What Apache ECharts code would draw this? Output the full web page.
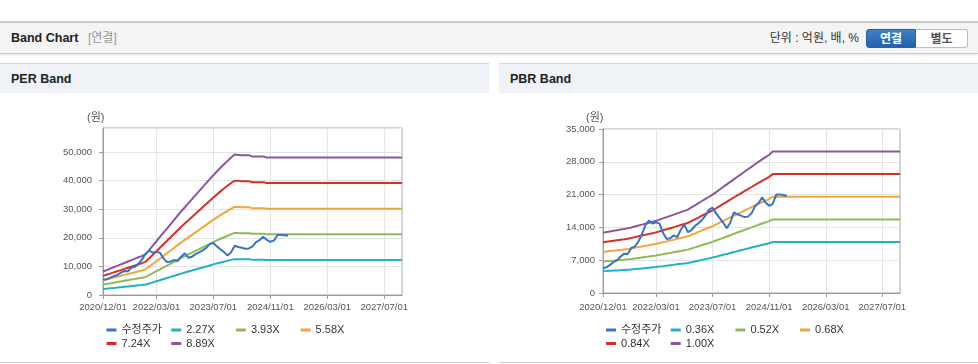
<!DOCTYPE html>
<html><head><meta charset="utf-8">
<script src="https://cdn.jsdelivr.net/npm/echarts@6/dist/echarts.min.js"></script>
<style>
html,body{margin:0;padding:0;background:#fff;width:978px;height:364px;overflow:hidden;font-family:"Liberation Sans","Noto Sans CJK KR",sans-serif;}
#hdr{position:absolute;left:0;top:21px;width:978px;height:30px;background:#f4f4f4;border-top:2px solid #c8c8c8;border-bottom:1px solid #cfcfcf;box-shadow:0 1px 2px rgba(0,0,0,0.12);}
#hdr .t1{position:absolute;left:11px;top:0;line-height:31px;font-size:12.5px;font-weight:bold;color:#222;}
#hdr .t2{position:absolute;left:88px;top:0;line-height:31px;font-size:12px;color:#999;}
#hdr .unit{position:absolute;right:119px;top:0;line-height:31px;font-size:12px;color:#333;}
#hdr .on{position:absolute;left:866px;top:6px;width:50px;height:19px;line-height:19px;text-align:center;font-size:12px;font-weight:bold;color:#fff;background:linear-gradient(#3d7fc8,#2561a8);border:1px solid #2a61a3;border-radius:3px 0 0 3px;box-sizing:border-box;}
#hdr .off{position:absolute;left:916px;top:6px;width:52px;height:19px;line-height:19px;text-align:center;font-size:12px;font-weight:bold;color:#555;background:#fff;border:1px solid #bdbdbd;border-left:none;border-radius:0 3px 3px 0;box-sizing:border-box;}
.ph{position:absolute;top:63px;height:29px;border-top:1px solid #d8d8d8;background:#eff2f6;font-size:12.5px;font-weight:bold;color:#222;line-height:31px;padding-left:11px;box-sizing:content-box;}
.pb{position:absolute;top:362px;height:1px;background:#cfcfcf;}
.chart{position:absolute;top:93px;height:269px;}
</style></head>
<body>
<div id="hdr">
  <span class="t1">Band Chart</span><span class="t2">[연결]</span>
  <span class="unit">단위 : 억원, 배, %</span>
  <span class="on">연결</span><span class="off">별도</span>
</div>
<div class="ph" style="left:0;width:478px;">PER Band</div>
<div class="ph" style="left:499px;width:468px;">PBR Band</div>
<div id="per" class="chart" style="left:0;width:489px;"></div>
<div id="pbr" class="chart" style="left:499px;width:479px;"></div>
<div class="pb" style="left:0;width:489px;"></div>
<div class="pb" style="left:499px;width:479px;"></div>
<script>
const months = [
'2020/12/01',
'2021/01/01','2021/02/01','2021/03/01','2021/04/01','2021/05/01','2021/06/01','2021/07/01','2021/08/01','2021/09/01','2021/10/01','2021/11/01','2021/12/01',
'2022/01/01','2022/02/01','2022/03/01','2022/04/01','2022/05/01','2022/06/01','2022/07/01','2022/08/01','2022/09/01','2022/10/01','2022/11/01','2022/12/01',
'2023/01/01','2023/02/01','2023/03/01','2023/04/01','2023/05/01','2023/06/01','2023/07/01','2023/08/01','2023/09/01','2023/10/01','2023/11/01','2023/12/01',
'2024/01/01','2024/02/01','2024/03/01','2024/04/01','2024/05/01','2024/06/01','2024/07/01','2024/08/01','2024/09/01','2024/10/01','2024/11/01','2024/12/01',
'2025/01/01','2025/02/01','2025/03/01','2025/04/01','2025/05/01','2025/06/01','2025/07/01','2025/08/01','2025/09/01','2025/10/01','2025/11/01','2025/12/01',
'2026/01/01','2026/02/01','2026/03/01','2026/04/01','2026/05/01','2026/06/01','2026/07/01','2026/08/01','2026/09/01','2026/10/01','2026/11/01','2026/12/01',
'2027/01/01','2027/02/01','2027/03/01','2027/04/01','2027/05/01','2027/06/01','2027/07/01','2027/08/01','2027/09/01','2027/10/01','2027/11/01','2027/12/01'
];
const tickLabels = ['2020/12/01','2022/03/01','2023/07/01','2024/11/01','2026/03/01','2027/07/01'];

const price = [
5300,5500,6000,6600,7000,7800,8400,8300,9600,9900,
11000,12500,14500,15500,14800,15100,14800,12800,11500,11700,
12300,11900,13500,14600,13000,13400,14300,14900,15600,16500,
17800,18200,17000,16000,15000,13800,15000,17200,16800,16500,
16200,16300,17000,18500,19200,20400,19300,18600,19000,21000,
21000,20900,20700
];

const perNames = ['수정주가','2.27X','3.93X','5.58X','7.24X','8.89X'];
const per227 = [
2090,2220,2350,2480,2600,2730,2860,2990,3110,3240,
3370,3500,3650,4030,4420,4800,5180,5570,5950,6330,
6710,7100,7480,7840,8200,8550,8910,9270,9620,9980,
10340,10700,11030,11360,11670,11970,12280,12540,12510,12480,
12480,12480,12360,12360,12360,12360,12280,12280,12280,12280,
12280,12280,12280,12280,12280,12280,12280,12280,12280,12280,
12280,12280,12280,12280,12280,12280,12280,12280,12280,12280,
12280,12280,12280,12280,12280,12280,12280,12280,12280,12280,
12280,12280,12280,12280,12280
];
const per393 = [
3630,3850,4070,4290,4510,4730,4950,5170,5390,5610,
5840,6060,6320,6990,7650,8310,8970,9640,10300,10960,
11630,12290,12950,13570,14190,14810,15430,16050,16670,17290,
17900,18520,19100,19670,20200,20730,21270,21710,21660,21620,
21620,21620,21400,21400,21400,21400,21270,21270,21270,21270,
21270,21270,21270,21270,21270,21270,21270,21270,21270,21270,
21270,21270,21270,21270,21270,21270,21270,21270,21270,21270,
21270,21270,21270,21270,21270,21270,21270,21270,21270,21270,
21270,21270,21270,21270,21270
];
const per558 = [
5150,5460,5770,6090,6400,6720,7030,7340,7660,7970,
8290,8600,8980,9920,10860,11800,12740,13680,14630,15570,
16510,17450,18390,19270,20150,21030,21910,22790,23660,24540,
25420,26300,27120,27930,28690,29440,30190,30820,30760,30690,
30690,30690,30380,30380,30380,30380,30190,30190,30190,30190,
30190,30190,30190,30190,30190,30190,30190,30190,30190,30190,
30190,30190,30190,30190,30190,30190,30190,30190,30190,30190,
30190,30190,30190,30190,30190,30190,30190,30190,30190,30190,
30190,30190,30190,30190,30190
];
const per724 = [
6680,7090,7490,7900,8310,8710,9120,9530,9940,10340,
10750,11160,11650,12870,14090,15310,16530,17750,18980,20200,
21420,22640,23860,25000,26140,27280,28420,29560,30700,31840,
32980,34120,35180,36240,37220,38200,39170,39990,39910,39820,
39820,39820,39420,39420,39420,39420,39170,39170,39170,39170,
39170,39170,39170,39170,39170,39170,39170,39170,39170,39170,
39170,39170,39170,39170,39170,39170,39170,39170,39170,39170,
39170,39170,39170,39170,39170,39170,39170,39170,39170,39170,
39170,39170,39170,39170,39170
];
const per889 = [
8200,8700,9200,9700,10200,10700,11200,11700,12200,12700,
13200,13700,14300,15800,17300,18800,20300,21800,23300,24800,
26300,27800,29300,30700,32100,33500,34900,36300,37700,39100,
40500,41900,43200,44500,45700,46900,48100,49100,49000,48900,
48900,48900,48400,48400,48400,48400,48100,48100,48100,48100,
48100,48100,48100,48100,48100,48100,48100,48100,48100,48100,
48100,48100,48100,48100,48100,48100,48100,48100,48100,48100,
48100,48100,48100,48100,48100,48100,48100,48100,48100,48100,
48100,48100,48100,48100,48100
];

const pbrNames = ['수정주가','0.36X','0.52X','0.68X','0.84X','1.00X'];
const pbr036 = [
4640,4680,4730,4780,4820,4870,4920,4970,5040,5110,
5180,5250,5320,5400,5470,5540,5640,5730,5830,5930,
6020,6120,6220,6310,6410,6570,6740,6900,7070,7230,
7390,7560,7750,7950,8150,8340,8540,8730,8930,9120,
9310,9500,9700,9890,10080,10260,10440,10620,10870,10870,
10870,10870,10870,10870,10870,10870,10870,10870,10870,10870,
10870,10870,10870,10870,10870,10870,10870,10870,10870,10870,
10870,10870,10870,10870,10870,10870,10870,10870,10870,10870,
10870,10870,10870,10870,10870
];
const pbr052 = [
6700,6770,6830,6900,6970,7040,7100,7180,7270,7380,
7480,7590,7690,7790,7900,8010,8150,8280,8420,8560,
8700,8840,8980,9120,9260,9500,9730,9970,10210,10450,
10680,10920,11200,11490,11770,12050,12330,12620,12900,13170,
13450,13730,14000,14280,14560,14820,15080,15340,15700,15700,
15700,15700,15700,15700,15700,15700,15700,15700,15700,15700,
15700,15700,15700,15700,15700,15700,15700,15700,15700,15700,
15700,15700,15700,15700,15700,15700,15700,15700,15700,15700,
15700,15700,15700,15700,15700
];
const pbr068 = [
8760,8850,8940,9020,9110,9200,9290,9380,9510,9650,
9790,9920,10060,10190,10340,10470,10660,10830,11020,11200,
11380,11560,11740,11920,12100,12420,12720,13040,13350,13660,
13970,14280,14650,15020,15390,15760,16120,16500,16860,17220,
17590,17950,18310,18680,19040,19380,19720,20060,20540,20540,
20540,20540,20540,20540,20540,20540,20540,20540,20540,20540,
20540,20540,20540,20540,20540,20540,20540,20540,20540,20540,
20540,20540,20540,20540,20540,20540,20540,20540,20540,20540,
20540,20540,20540,20540,20540
];
const pbr084 = [
10820,10930,11040,11150,11260,11370,11470,11590,11750,11920,
12090,12260,12420,12590,12770,12940,13160,13380,13610,13830,
14050,14280,14510,14730,14950,15340,15720,16100,16490,16880,
17250,17640,18090,18560,19010,19460,19920,20380,20830,21280,
21730,22180,22620,23070,23520,23940,24360,24780,25370,25370,
25370,25370,25370,25370,25370,25370,25370,25370,25370,25370,
25370,25370,25370,25370,25370,25370,25370,25370,25370,25370,
25370,25370,25370,25370,25370,25370,25370,25370,25370,25370,
25370,25370,25370,25370,25370
];
const pbr100 = [
12880,13010,13140,13270,13400,13530,13660,13800,13990,14190,
14390,14590,14790,14990,15200,15400,15670,15930,16200,16470,
16730,17000,17270,17530,17800,18260,18710,19170,19630,20090,
20540,21000,21540,22090,22630,23170,23710,24260,24800,25330,
25870,26400,26930,27470,28000,28500,29000,29500,30200,30200,
30200,30200,30200,30200,30200,30200,30200,30200,30200,30200,
30200,30200,30200,30200,30200,30200,30200,30200,30200,30200,
30200,30200,30200,30200,30200,30200,30200,30200,30200,30200,
30200,30200,30200,30200,30200
];

const COLORS = ['#3a73c4','#22b2c4','#8fba58','#f2a53a','#d4302b','#8c55a0'];
const FONT = '"Liberation Sans","Noto Sans CJK KR",sans-serif';
const isTick = (idx, val) => tickLabels.indexOf(val) >= 0;

function build(names, bands, cfg) {
  const all = [price].concat(bands);
  const series = all.map((d, k) => ({
    name: names[k], type: 'line', data: d, symbol: 'none', showSymbol: false,
    z: k === 0 ? 5 : 2,
    lineStyle: { color: COLORS[k], width: 2 },
    itemStyle: { color: COLORS[k] },
    emphasis: { disabled: true }
  }));
  // one legend component per item, laid out in a fixed 4-column grid
  const legends = names.map((n, k) => ({
    data: [n], icon: 'rect', itemWidth: 10, itemHeight: 3, padding: 0,
    left: cfg.legendLeft + (k % 4) * 64.7,
    top: k < 4 ? 231.5 : 245,
    textStyle: { fontSize: 11, color: '#333', fontFamily: FONT }
  }));
  return {
    animation: false,
    color: COLORS,
    textStyle: { fontFamily: FONT },
    grid: { left: cfg.grid[0], right: cfg.grid[1], top: cfg.grid[2], bottom: cfg.grid[3],
            show: true, borderColor: '#a8a8a8', borderWidth: 1 },
    legend: legends,
    graphic: [{ type: 'text', left: 87, top: 19,
      style: { text: '(원)', fill: '#555', font: '11px ' + FONT } }],
    xAxis: {
      type: 'category', data: months, boundaryGap: false,
      axisLine: { lineStyle: { color: '#9a9a9a' } },
      axisTick: { show: true, interval: isTick, length: 4, lineStyle: { color: '#9a9a9a' } },
      axisLabel: { interval: isTick, color: '#555', fontSize: 9.5, margin: cfg.xMargin, fontFamily: FONT },
      splitLine: { show: true, interval: isTick, lineStyle: { color: '#e4e4e4' } }
    },
    yAxis: {
      type: 'value', min: 0, max: cfg.max, interval: cfg.interval,
      axisLine: { show: true, lineStyle: { color: '#9a9a9a' } },
      axisTick: { show: true, length: 4, lineStyle: { color: '#9a9a9a' } },
      axisLabel: { color: '#555', fontSize: 9.5, margin: cfg.yMargin, showMaxLabel: cfg.showMax,
        fontFamily: FONT, formatter: v => v.toLocaleString('en-US') },
      splitLine: { lineStyle: { color: '#e4e4e4' } }
    },
    series: series
  };
}

const perChart = echarts.init(document.getElementById('per'));
perChart.setOption(build(perNames, [per227, per393, per558, per724, per889], {
  grid: [103, 87, 35, 67], max: 58400, interval: 10000, showMax: false,
  yMargin: 11, xMargin: 8, legendLeft: 106.5
}));
const pbrChart = echarts.init(document.getElementById('pbr'));
pbrChart.setOption(build(pbrNames, [pbr036, pbr052, pbr068, pbr084, pbr100], {
  grid: [104, 78, 36, 69], max: 35000, interval: 7000, showMax: true,
  yMargin: 8, xMargin: 10, legendLeft: 107
}));
</script>
</body></html>
